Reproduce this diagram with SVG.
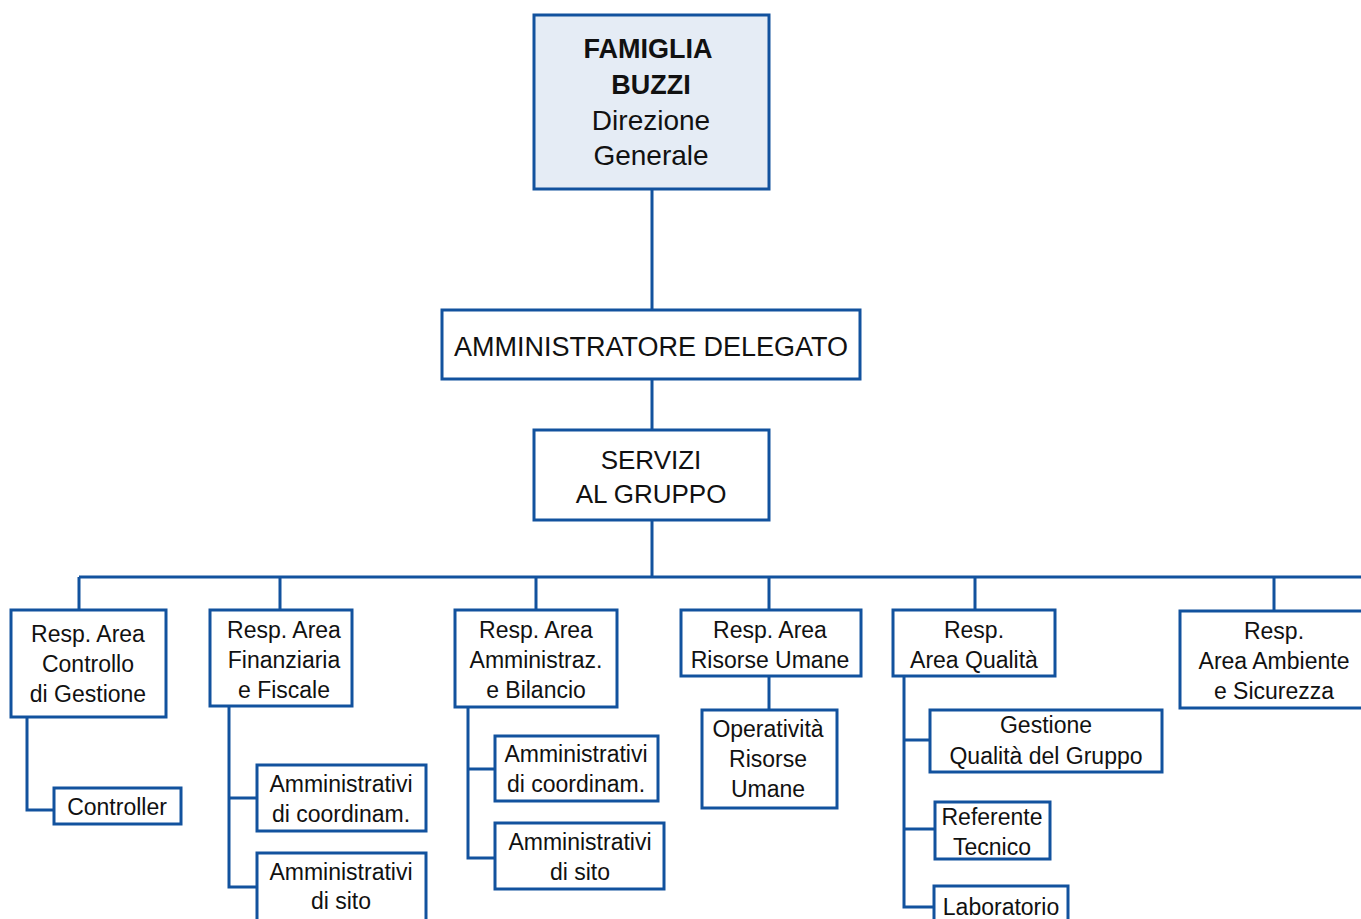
<svg xmlns="http://www.w3.org/2000/svg" width="1361" height="919" viewBox="0 0 1361 919">
<style>
.box{fill:#ffffff;stroke:#12529e;stroke-width:3}
.top{fill:#e5ecf5;stroke:#12529e;stroke-width:3}
.ln{fill:none;stroke:#12529e;stroke-width:3}
text{font-family:"Liberation Sans",Arial,sans-serif;fill:#111;text-anchor:middle}
.t28{font-size:28px}
.b28{font-size:27px;font-weight:bold}
.t26{font-size:26px}
.t27{font-size:27px}
.t23{font-size:23px}
</style>
<rect x="0" y="0" width="1361" height="919" fill="#ffffff"/>
<g id="connectors">
<path class="ln" d="M652 189V310M652 379V430M652 520V577"/>
<path class="ln" d="M79 577H1362"/>
<path class="ln" d="M79 577V610M280 577V610M536 577V610M769 577V610M975 577V610M1274 577V610"/>
<path class="ln" d="M27 717V810H54"/>
<path class="ln" d="M229 706V887H257M229 798H257"/>
<path class="ln" d="M468 707V858H495M468 769H495"/>
<path class="ln" d="M769 676V710"/>
<path class="ln" d="M904 676V907H934M904 740H930M904 829H935"/>
</g>
<g id="famiglia">
<rect class="top" x="534" y="15" width="235" height="174"/>
<text class="b28" x="648" y="58">FAMIGLIA</text>
<text class="b28" x="651" y="94">BUZZI</text>
<text class="t28" x="651" y="130">Direzione</text>
<text class="t28" x="651" y="165">Generale</text>
</g>
<g id="ad">
<rect class="box" x="442" y="310" width="418" height="69"/>
<text class="t27" x="651" y="356">AMMINISTRATORE DELEGATO</text>
</g>
<g id="servizi">
<rect class="box" x="534" y="430" width="235" height="90"/>
<text class="t26" x="651" y="469">SERVIZI</text>
<text class="t26" x="651" y="503">AL GRUPPO</text>
</g>
<g id="controllo">
<rect class="box" x="11" y="610" width="155" height="107"/>
<text class="t23" x="88" y="642">Resp. Area</text>
<text class="t23" x="88" y="672">Controllo</text>
<text class="t23" x="88" y="702">di Gestione</text>
</g>
<g id="controller">
<rect class="box" x="54" y="788" width="127" height="36"/>
<text class="t23" x="117" y="815">Controller</text>
</g>
<g id="finanziaria">
<rect class="box" x="210" y="610" width="142" height="96"/>
<text class="t23" x="284" y="638">Resp. Area</text>
<text class="t23" x="284" y="668">Finanziaria</text>
<text class="t23" x="284" y="698">e Fiscale</text>
</g>
<g id="fin-coord">
<rect class="box" x="257" y="765" width="169" height="66"/>
<text class="t23" x="341" y="792">Amministrativi</text>
<text class="t23" x="341" y="822">di coordinam.</text>
</g>
<g id="fin-sito">
<rect class="box" x="257" y="853" width="169" height="75"/>
<text class="t23" x="341" y="880">Amministrativi</text>
<text class="t23" x="341" y="909">di sito</text>
</g>
<g id="amministraz">
<rect class="box" x="455" y="610" width="162" height="97"/>
<text class="t23" x="536" y="638">Resp. Area</text>
<text class="t23" x="536" y="668">Amministraz.</text>
<text class="t23" x="536" y="698">e Bilancio</text>
</g>
<g id="amm-coord">
<rect class="box" x="495" y="736" width="163" height="65"/>
<text class="t23" x="576" y="762">Amministrativi</text>
<text class="t23" x="576" y="792">di coordinam.</text>
</g>
<g id="amm-sito">
<rect class="box" x="495" y="823" width="169" height="66"/>
<text class="t23" x="580" y="850">Amministrativi</text>
<text class="t23" x="580" y="880">di sito</text>
</g>
<g id="risorse">
<rect class="box" x="681" y="610" width="180" height="66"/>
<text class="t23" x="770" y="638">Resp. Area</text>
<text class="t23" x="770" y="668">Risorse Umane</text>
</g>
<g id="operativita">
<rect class="box" x="702" y="710" width="135" height="98"/>
<text class="t23" x="768" y="737">Operatività</text>
<text class="t23" x="768" y="767">Risorse</text>
<text class="t23" x="768" y="797">Umane</text>
</g>
<g id="qualita">
<rect class="box" x="893" y="610" width="162" height="66"/>
<text class="t23" x="974" y="638">Resp.</text>
<text class="t23" x="974" y="668">Area Qualità</text>
</g>
<g id="gestione">
<rect class="box" x="930" y="710" width="232" height="62"/>
<text class="t23" x="1046" y="733">Gestione</text>
<text class="t23" x="1046" y="764">Qualità del Gruppo</text>
</g>
<g id="referente">
<rect class="box" x="935" y="802" width="115" height="57"/>
<text class="t23" x="992" y="825">Referente</text>
<text class="t23" x="992" y="855">Tecnico</text>
</g>
<g id="laboratorio">
<rect class="box" x="934" y="886" width="134" height="45"/>
<text class="t23" x="1001" y="915">Laboratorio</text>
</g>
<g id="ambiente">
<rect class="box" x="1180" y="611" width="195" height="97"/>
<text class="t23" x="1274" y="639">Resp.</text>
<text class="t23" x="1274" y="669">Area Ambiente</text>
<text class="t23" x="1274" y="699">e Sicurezza</text>
</g>
</svg>
